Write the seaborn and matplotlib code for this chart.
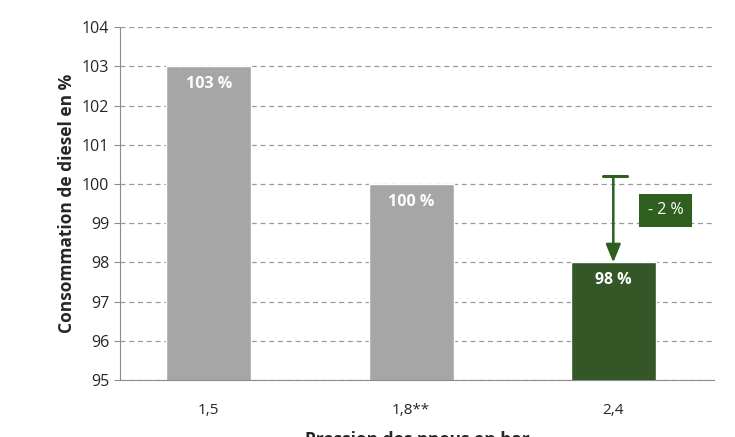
import pandas as pd
import matplotlib.pyplot as plt
import seaborn as sns

categories = ["1,5", "1,8**", "2,4"]
values = [103, 100, 98]
labels = ["103 %", "100 %", "98 %"]
colors = ["#a6a6a6", "#a6a6a6", "#2f5f1f"]

df = pd.DataFrame({"cat": categories, "val": values})

sns.set_style("white")
plt.rcParams["font.family"] = ["Open Sans", "DejaVu Sans"]

fig, ax = plt.subplots(figsize=(7.35, 4.37), dpi=100)
fig.subplots_adjust(left=0.163, right=0.972, top=0.938, bottom=0.13)

sns.barplot(data=df, x="cat", y="val", hue="cat", palette=colors,
            width=0.42, legend=False, ax=ax, bottom=0)
ax.set_ylim(95, 104)
ax.set_xlim(-0.44, 2.5)
ax.set_yticks(range(95, 105))
ax.yaxis.grid(True, linestyle=(0, (4, 3)), color="#9a9a9a", linewidth=0.9)
ax.set_axisbelow(True)

for s in ["top", "right"]:
    ax.spines[s].set_visible(False)
for s in ["left", "bottom"]:
    ax.spines[s].set_color("#8c8c8c")
ax.tick_params(axis="y", left=True, length=4, color="#8c8c8c", labelsize=11.5)
ax.tick_params(axis="x", bottom=False, labelsize=11, pad=13)

for i, (v, t) in enumerate(zip(values, labels)):
    ax.text(i, v - 0.45, t, ha="center", va="center", color="white",
            fontsize=11.5, fontweight="bold")

# arrow showing -2 %
ax.annotate("", xy=(2, 98), xytext=(2, 100.2),
            arrowprops=dict(arrowstyle="-|>,head_width=0.45,head_length=1.1",
                            color="#2f5f1f", lw=1.8, shrinkA=0, shrinkB=0))
ax.plot([1.95, 2.07], [100.2, 100.2], color="#2f5f1f", lw=2.2)
ax.text(2.26, 99.33, "- 2 %", ha="center", va="center", color="white",
        fontsize=11.5,
        bbox=dict(boxstyle="square,pad=0.55", fc="#2f5f1f", ec="none"))

ax.set_ylabel("Consommation de diesel en %", fontsize=12.5, fontweight="bold")
ax.set_xlabel("Pression des pneus en bar", fontsize=12.5, fontweight="bold",
              labelpad=9)

fig.savefig("out.png", dpi=100)
